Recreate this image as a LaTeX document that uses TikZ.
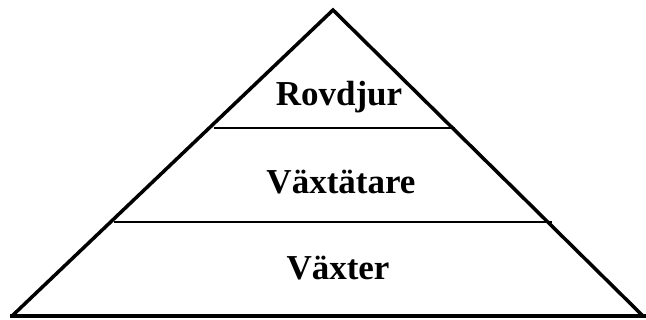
\documentclass[tikz,border=0pt]{standalone}
\usepackage{fontspec}
\setmainfont{Liberation Serif}
\begin{document}
\begin{tikzpicture}[x=1pt,y=-1pt,
  edge/.style={line width=3.5pt,line join=miter,line cap=butt},
  divider/.style={line width=1.8pt},
  label/.style={font=\fontsize{35}{40}\selectfont\bfseries,anchor=base,inner sep=0pt}]
\useasboundingbox (0,0) rectangle (646,320);
\coordinate (apex) at (333,10);
\coordinate (bl) at (12,316);
\coordinate (br) at (646,316);
\coordinate (baseR) at (643,316);
\draw[edge] (bl) -- (apex) -- (baseR);
\draw[line width=3.5pt] (10,316) -- (br);
\coordinate (a1) at (214,128);
\coordinate (a2) at (455,128);
\coordinate (b1) at (114,222);
\coordinate (b2) at (552,222);
\draw[divider] (a1) -- (a2);
\draw[divider] (b1) -- (b2);
\node[label] (rov) at (339,106) {Rovdjur};
\node[label] (vxt) at (341,194) {Växtätare};
\node[label] (vx) at (338,280) {Växter};
\end{tikzpicture}
\end{document}
